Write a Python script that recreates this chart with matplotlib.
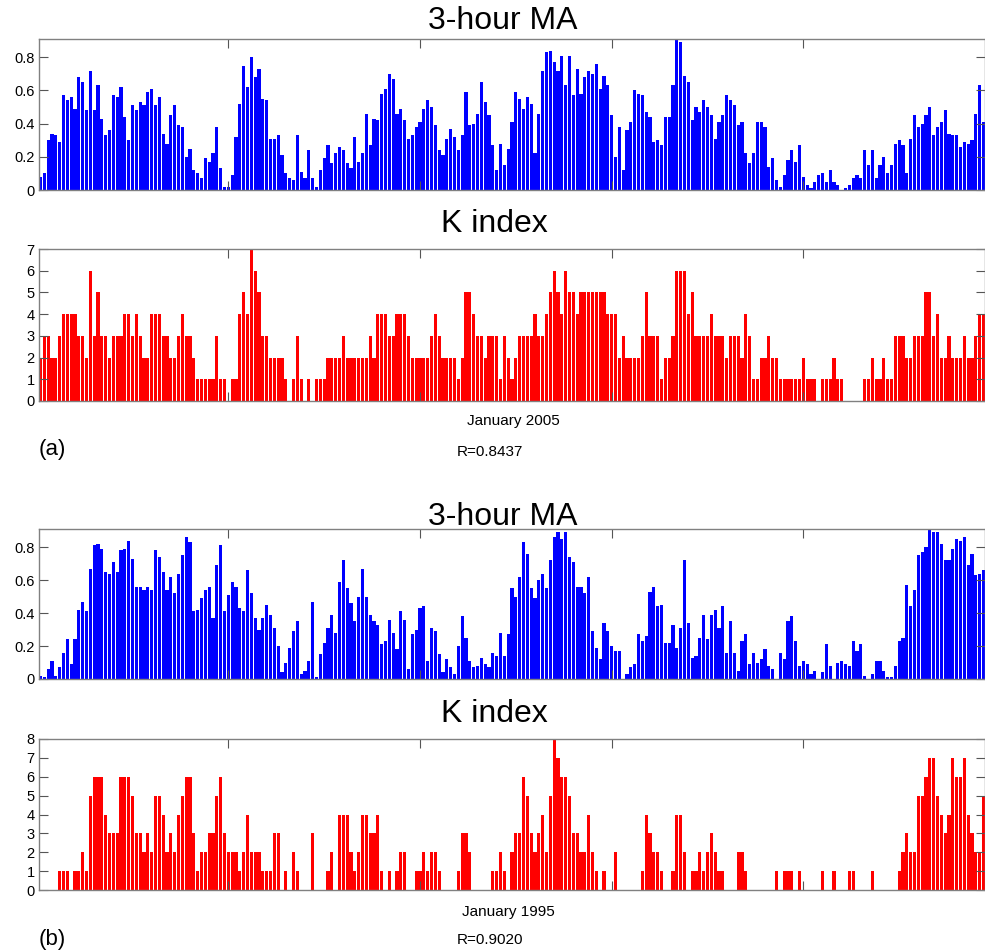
import numpy as np
import matplotlib.pyplot as plt

plt.rcParams['font.family'] = ['Liberation Sans', 'DejaVu Sans']

# 3-hour moving average, January 2005
ma_2005 = [
    0.08, 0.10, 0.30, 0.34, 0.33, 0.29, 0.57, 0.54, 0.56, 0.49,
    0.68, 0.65, 0.48, 0.72, 0.48, 0.63, 0.43, 0.33, 0.36, 0.57,
    0.56, 0.62, 0.44, 0.30, 0.51, 0.48, 0.53, 0.51, 0.59, 0.61,
    0.51, 0.56, 0.34, 0.28, 0.45, 0.51, 0.39, 0.38, 0.20, 0.25,
    0.12, 0.10, 0.07, 0.19, 0.17, 0.22, 0.38, 0.13, 0.02, 0.02,
    0.09, 0.32, 0.52, 0.75, 0.62, 0.80, 0.68, 0.73, 0.55, 0.54,
    0.31, 0.31, 0.33, 0.21, 0.10, 0.07, 0.06, 0.33, 0.11, 0.07,
    0.24, 0.07, 0.02, 0.12, 0.19, 0.27, 0.16, 0.22, 0.26, 0.24,
    0.16, 0.13, 0.32, 0.17,
    0.22, 0.46, 0.27, 0.43, 0.42, 0.58, 0.61, 0.70, 0.67, 0.46,
    0.49, 0.42, 0.31, 0.33, 0.38, 0.41, 0.49, 0.54, 0.50, 0.39,
    0.24, 0.21, 0.31, 0.37, 0.32, 0.24, 0.33, 0.59, 0.39, 0.40,
    0.46, 0.65, 0.53, 0.45, 0.27, 0.12, 0.28, 0.15, 0.25, 0.41,
    0.59, 0.55, 0.49, 0.56, 0.52, 0.22, 0.46, 0.72, 0.83, 0.84,
    0.77, 0.72, 0.81, 0.63, 0.81, 0.57, 0.73, 0.58, 0.68, 0.72,
    0.70, 0.76, 0.61, 0.69, 0.63, 0.45, 0.20, 0.38, 0.12, 0.36,
    0.41, 0.60, 0.58, 0.57, 0.47, 0.44, 0.29, 0.30, 0.27, 0.44,
    0.44, 0.63, 0.91,
    0.89, 0.69, 0.65, 0.42, 0.50, 0.47, 0.54, 0.50, 0.45, 0.31,
    0.41, 0.45, 0.57, 0.54, 0.51, 0.39, 0.41, 0.22, 0.16, 0.22,
    0.41, 0.41, 0.38, 0.14, 0.19, 0.06, 0.02, 0.09, 0.18, 0.24,
    0.17, 0.27, 0.08, 0.03, 0.01, 0.05, 0.09, 0.10, 0.05, 0.12,
    0.05, 0.03, 0.00, 0.01, 0.03, 0.07, 0.09, 0.07, 0.24, 0.15,
    0.24, 0.07, 0.15, 0.20, 0.10, 0.15, 0.28, 0.30, 0.27, 0.10,
    0.31, 0.45, 0.38, 0.40, 0.45, 0.50, 0.33, 0.38, 0.41, 0.48,
    0.34, 0.33, 0.33, 0.26, 0.29, 0.28, 0.30, 0.46, 0.63, 0.41,
]

# K index, January 2005
k_2005 = [
    2, 3, 3, 2, 2, 3, 4, 4, 4, 4, 3, 3, 2, 6, 3, 5, 3, 3, 2, 3,
    3, 3, 4, 4, 3, 4, 3, 2, 2, 4, 4, 4, 3, 3, 2, 2, 3, 4, 3, 3,
    2, 1, 1, 1, 1, 1, 3, 1, 1, 0, 1, 1, 4, 5, 4, 7, 6, 5, 3, 3,
    2, 2, 2, 2, 1, 0, 1, 3, 1, 0, 1, 0, 1, 1, 1, 2, 2, 2, 2, 3,
    2, 2, 2, 2,
    2, 2, 3, 2, 4, 4, 4, 3, 3, 4, 4, 4, 3, 2, 2, 2, 2, 2, 3, 4,
    3, 2, 2, 2, 2, 1, 2, 5, 5, 4, 3, 3, 2, 3, 3, 3, 1, 3, 2, 1,
    2, 3, 3, 3, 3, 4, 3, 3, 4, 5, 6, 5, 4, 6, 5, 5, 4, 5, 5, 5,
    5, 5, 5, 5, 4, 4, 4, 2, 3, 2, 2, 2, 2, 3, 5, 3, 3, 3, 1, 2,
    2, 3,
    6, 6, 6, 4, 5, 3, 3, 3, 3, 4, 3, 3, 3, 2, 3, 3, 3, 2, 4, 3,
    1, 1, 2, 2, 3, 2, 2, 1, 1, 1, 1, 1, 1, 2, 1, 1, 1, 0, 1, 1,
    1, 2, 1, 1, 0, 0, 0, 0, 0, 1, 1, 2, 1, 1, 2, 1, 1, 3, 3, 3,
    2, 2, 3, 3, 3, 5, 5, 3, 4, 2, 2, 3, 2, 2, 2, 3, 2, 2, 3, 4,
    4,
]

# 3-hour moving average, January 1995
ma_1995 = [
    0.02, 0.01, 0.06, 0.11, 0.02, 0.07, 0.16, 0.24, 0.09, 0.24,
    0.42, 0.47, 0.41, 0.67, 0.81, 0.82, 0.79, 0.65, 0.64, 0.71,
    0.65, 0.78, 0.79, 0.84, 0.73, 0.56, 0.56, 0.54, 0.56, 0.54,
    0.78, 0.74, 0.65, 0.54, 0.62, 0.52, 0.64, 0.75, 0.86, 0.83,
    0.41, 0.42, 0.49, 0.54, 0.56, 0.37, 0.69, 0.81, 0.41, 0.51,
    0.59, 0.56, 0.43, 0.41, 0.66, 0.52, 0.37, 0.30, 0.37, 0.45,
    0.39, 0.31, 0.20, 0.04, 0.10, 0.19, 0.29, 0.35, 0.03, 0.05,
    0.11, 0.47, 0.01, 0.15, 0.22, 0.31, 0.39, 0.28, 0.59, 0.72,
    0.55, 0.46, 0.35, 0.50,
    0.67, 0.50, 0.39, 0.35, 0.33, 0.21, 0.23, 0.36, 0.28, 0.18,
    0.41, 0.36, 0.06, 0.27, 0.30, 0.43, 0.44, 0.11, 0.31, 0.29,
    0.15, 0.04, 0.12, 0.07, 0.03, 0.20, 0.38, 0.25, 0.11, 0.07,
    0.08, 0.13, 0.09, 0.07, 0.16, 0.14, 0.28, 0.14, 0.27, 0.55,
    0.50, 0.62, 0.83, 0.76, 0.55, 0.49, 0.60, 0.64, 0.55, 0.72,
    0.86, 0.89, 0.85, 0.89, 0.74, 0.71, 0.56, 0.56, 0.52, 0.62,
    0.29, 0.19, 0.12, 0.34, 0.29, 0.20, 0.17, 0.17, 0.00, 0.03,
    0.07, 0.09, 0.27, 0.23, 0.26, 0.53, 0.56, 0.44, 0.45, 0.22,
    0.22,
    0.33, 0.19, 0.31, 0.72, 0.34, 0.13, 0.14, 0.25, 0.39, 0.24,
    0.39, 0.42, 0.31, 0.44, 0.16, 0.35, 0.16, 0.05, 0.23, 0.27,
    0.09, 0.16, 0.10, 0.12, 0.18, 0.08, 0.06, 0.00, 0.16, 0.12,
    0.35, 0.38, 0.23, 0.08, 0.11, 0.09, 0.03, 0.05, 0.00, 0.04,
    0.21, 0.08, 0.00, 0.10, 0.11, 0.09, 0.08, 0.23, 0.17, 0.21,
    0.02, 0.00, 0.03, 0.11, 0.11, 0.05, 0.01, 0.01, 0.08, 0.23,
    0.25, 0.57, 0.44, 0.54, 0.75, 0.77, 0.80, 0.91, 0.89, 0.89,
    0.82, 0.72, 0.72, 0.79, 0.85, 0.84, 0.86, 0.69, 0.76, 0.63,
    0.64, 0.66,
]

# K index, January 1995
k_1995 = [
    0, 0, 0, 0, 0, 1, 1, 1, 0, 1, 1, 2, 1, 5, 6, 6, 6, 4, 3, 3,
    3, 6, 6, 6, 5, 3, 3, 2, 3, 2, 5, 5, 4, 2, 3, 2, 4, 5, 6, 6,
    3, 1, 2, 2, 3, 3, 5, 6, 3, 2, 2, 2, 1, 2, 4, 2, 2, 2, 1, 1,
    1, 3, 3, 0, 1, 0, 2, 1, 0, 0, 0, 3, 0, 0, 0, 1, 2, 0, 4, 4,
    4, 2, 1, 2,
    4, 4, 3, 3, 4, 1, 0, 1, 0, 1, 2, 2, 0, 0, 1, 1, 2, 1, 2, 2,
    1, 0, 0, 0, 0, 1, 3, 3, 2, 0, 0, 0, 0, 0, 1, 1, 2, 1, 0, 2,
    3, 3, 6, 5, 3, 2, 3, 4, 2, 5, 8, 7, 6, 6, 5, 3, 3, 2, 2, 4,
    2, 1, 0, 1, 0, 0, 2, 0, 0, 0, 0, 0, 0, 1, 4, 3, 2, 2, 1, 0,
    0, 1,
    4, 4, 2, 0, 1, 1, 2, 1, 2, 3, 2, 1, 1, 0, 0, 0, 2, 2, 1, 0,
    0, 0, 0, 0, 0, 0, 1, 0, 1, 1, 1, 0, 1, 0, 0, 0, 0, 0, 1, 0,
    0, 1, 0, 0, 0, 1, 1, 0, 0, 0, 0, 1, 0, 0, 0, 0, 0, 0, 1, 2,
    3, 2, 2, 5, 5, 6, 7, 7, 5, 4, 3, 4, 7, 6, 6, 7, 4, 3, 2, 2,
    5,
]

ma_ticks = [0, 0.2, 0.4, 0.6, 0.8]
ma_labels = ['0', '0.2', '0.4', '0.6', '0.8']
k05_ticks = list(range(0, 8))
k95_ticks = list(range(0, 9))

W, H = 985, 952
fig = plt.figure(figsize=(W / 100, H / 100), dpi=100)


def px(x, y):
    # pixel position -> figure fraction
    return x / W, 1 - y / H


def panel(top, bottom, vals, color, ymax, yticks, ylabels):
    ax = fig.add_axes([39 / W, 1 - bottom / H, 946 / W, (bottom - top) / H])
    x = np.arange(1, len(vals) + 1)
    ax.bar(x, vals, width=0.8, color=color, linewidth=0)
    ax.set_xlim(0.6, len(vals) + 0.4)
    ax.set_ylim(0, ymax)
    ax.set_xticks([50, 100, 150, 200])
    ax.set_xticklabels([])
    ax.set_yticks(yticks)
    ax.set_yticklabels(ylabels, fontsize=10.5)
    ax.tick_params(direction='in', top=True, right=True, length=6.5,
                   color='#555555', pad=3)
    for s in ax.spines.values():
        s.set_color('#808080')
        s.set_linewidth(1.0)
    return ax


panel(39, 190, ma_2005, '#0000ff', max(ma_2005), ma_ticks, ma_labels)
panel(249, 401, k_2005, '#ff0000', 7, k05_ticks, [str(v) for v in k05_ticks])
panel(529, 679, ma_1995, '#0000ff', max(ma_1995), ma_ticks, ma_labels)
panel(739, 890, k_1995, '#ff0000', 8, k95_ticks, [str(v) for v in k95_ticks])

# titles
for y, t, xc in [(21, '3-hour MA', 503), (224, 'K index', 494),
                 (517, '3-hour MA', 503), (714, 'K index', 494)]:
    fig.text(*px(xc, y), t, ha='center', va='center', fontsize=23)

fig.text(*px(513, 421), 'January 2005', ha='center', va='center', fontsize=11)
fig.text(*px(52, 449), '(a)', ha='center', va='center', fontsize=16)
fig.text(*px(490, 452), 'R=0.8437', ha='center', va='center', fontsize=11)
fig.text(*px(508, 912), 'January 1995', ha='center', va='center', fontsize=11)
fig.text(*px(52, 940), '(b)', ha='center', va='center', fontsize=16)
fig.text(*px(490, 940), 'R=0.9020', ha='center', va='center', fontsize=11)

fig.savefig('out.png', dpi=100)
